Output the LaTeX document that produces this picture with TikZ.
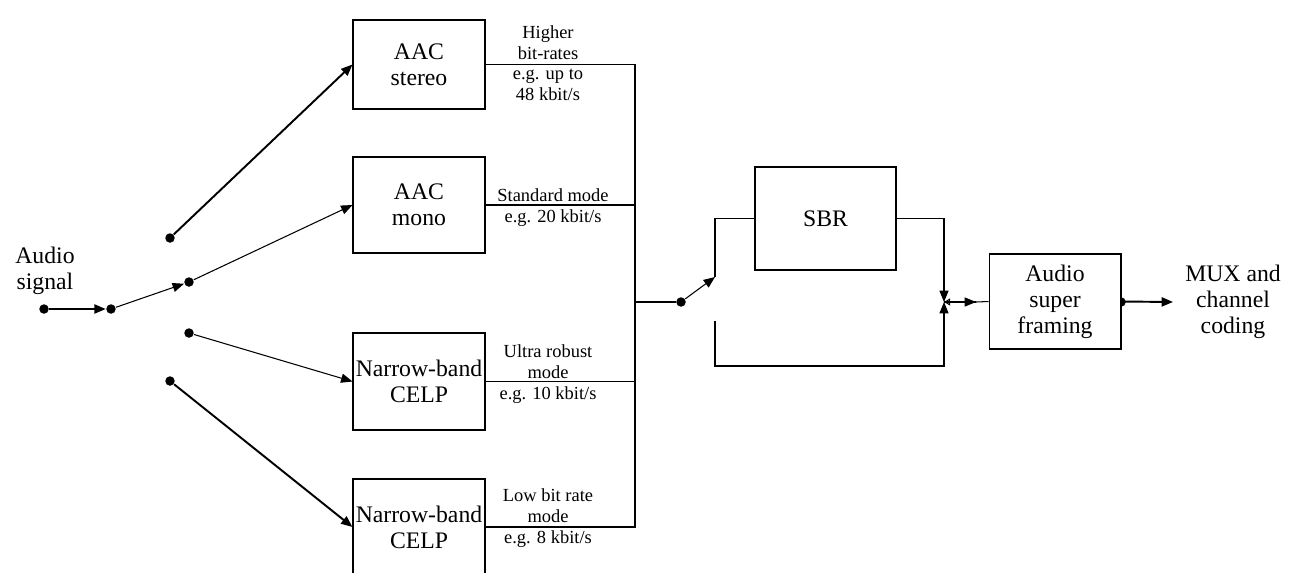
\documentclass[tikz,border=0pt]{standalone}
\usepackage{fontspec}
\setmainfont{Liberation Serif}
\usetikzlibrary{arrows.meta}

\begin{document}
\begin{tikzpicture}[x=0.02cm,y=-0.02cm,
line width=0.6pt, >={Triangle[length=6.5pt,width=5.2pt]},
every node/.style={font=\fontsize{13.5}{14.8}\selectfont, align=center, inner sep=1pt},
mybox/.style={rectangle, draw=black, fill=white, line width=0.6pt, minimum width=2.64cm},
mydot/.style={circle, fill=black, inner sep=0pt, minimum size=5.4pt},
mylabel/.style={font=\fontsize{10.5}{12}\selectfont, inner sep=0.5pt},
thickline/.style={line width=1.1pt} ]
\useasboundingbox (0,0) rectangle (1297,572);

% coder boxes
\node[mybox, minimum height=1.78cm] (stereo) at (419,64.5) {AAC\\stereo};
\node[mybox, minimum height=1.92cm] (mono) at (419,205) {AAC\\mono};
\node[mybox, minimum height=1.94cm] (celpA) at (419,381.5) {Narrow-band\\CELP};
\node[mybox, minimum height=1.92cm] (celpB) at (419,527) {Narrow-band\\CELP};
\node[mybox, minimum width=2.82cm, minimum height=2.06cm] (sbr) at (825.5,218.5) {SBR};
\node[mydot] (outdot) at (1121,302) {};
\node[mybox, minimum height=1.9cm] (framing) at (1055,301.5) {Audio\\super\\framing};

\node (audio) at (45,271) {Audio\\signal};
\node (mux) at (1233,302) {MUX and\\channel\\coding};

% input switch
\node[mydot] (in) at (44,309) {};
\node[mydot] (split) at (111,309) {};
\node[mydot] (d1) at (170,238) {};
\node[mydot] (d2) at (189,282) {};
\node[mydot] (d3) at (189,333) {};
\node[mydot] (d4) at (170,381) {};

\draw[->, thickline] (in) -- (split);
\draw[->] (split) -- (d2);
\draw[->, thickline] (d1) -- (stereo.west);
\draw[->] (d2) -- (mono.west);
\draw[->] (d3) -- (celpA.west);
\draw[->, thickline] (d4) -- (celpB.west);

% output bus
\coordinate (bus) at (635,302);
\draw (stereo.east) -- (stereo.east -| bus) -- (celpB.east -| bus) -- (celpB.east);
\draw[thickline] (mono.east) -- (mono.east -| bus);
\draw[thickline] (celpA.east) -- (celpA.east -| bus);

\node[mylabel, anchor=south] at (548,61) {Higher\\bit-rates};
\node[mylabel, anchor=north] at (548,68) {e.g. up to\\48 kbit/s};
\node[mylabel, anchor=south] at (553,203) {Standard mode};
\node[mylabel, anchor=north] at (553,208) {e.g. 20 kbit/s};
\node[mylabel, anchor=south] at (548,380) {Ultra robust\\mode};
\node[mylabel, anchor=north] at (548,385) {e.g. 10 kbit/s};
\node[mylabel, anchor=south] at (548,524) {Low bit rate\\mode};
\node[mylabel, anchor=north] at (548,529) {e.g. 8 kbit/s};

% SBR switch
\node[mydot] (sw) at (681,302) {};
\coordinate (swUp) at (715,277);
\coordinate (swLow) at (715,321);
\coordinate (merge) at (944,302);
\coordinate (midarr) at (976,302);
\coordinate (outend) at (1173,302);

\draw[thickline] (bus) -- (sw);
\draw[->] (sw) -- (swUp);
\draw (swUp) |- (sbr.west);
\draw[->] (sbr.east) -| (merge);
\draw[->] (swLow) -- ++(0,45) -| (merge);
\draw[-{Triangle[open,length=3.5pt,width=4pt]}] (midarr) -- (merge);
\draw[->] (merge) -- (midarr);
\draw (midarr) -- (framing.west);
\draw[->, thickline] (framing.east) -- (outend);
\end{tikzpicture}
\end{document}
